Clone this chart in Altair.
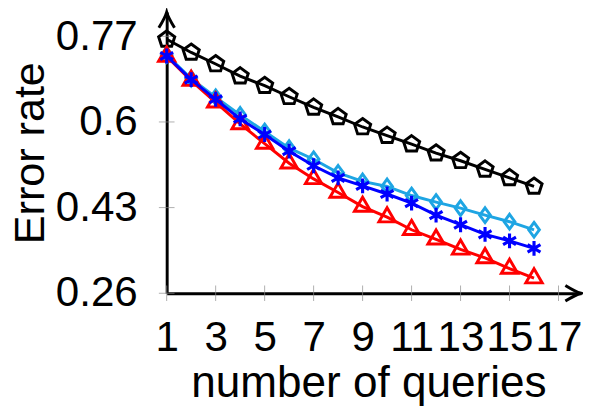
import altair as alt
import pandas as pd

queries = list(range(1, 17))
black_vals = [0.764, 0.738, 0.715, 0.691, 0.672, 0.650, 0.629, 0.610, 0.590, 0.573, 0.556, 0.538, 0.523, 0.506, 0.489, 0.472]
cyan_vals = [0.733, 0.686, 0.649, 0.614, 0.581, 0.548, 0.526, 0.499, 0.482, 0.472, 0.454, 0.441, 0.429, 0.415, 0.402, 0.386]
blue_vals = [0.731, 0.684, 0.645, 0.606, 0.575, 0.542, 0.513, 0.489, 0.473, 0.457, 0.439, 0.415, 0.396, 0.377, 0.364, 0.349]
red_vals = [0.730, 0.682, 0.639, 0.596, 0.557, 0.518, 0.487, 0.460, 0.432, 0.411, 0.386, 0.367, 0.347, 0.330, 0.309, 0.290]

x_ticks = [1, 3, 5, 7, 9, 11, 13, 15, 17]
y_ticks = [0.26, 0.43, 0.6, 0.77]
x_domain = [1, 17.92]
y_domain = [0.26, 0.818]

FONT = "Liberation Sans"

PENTAGON = "M0,-1L0.951,-0.309L0.588,0.809L-0.588,0.809L-0.951,-0.309Z"
DIAMOND = "M0,-1L0.73,0L0,1L-0.73,0Z"
TRIANGLE = "M0,-1L0.866,0.5L-0.866,0.5Z"
ASTERISK = "M0,-1L0,1M-0.866,-0.5L0.866,0.5M-0.866,0.5L0.866,-0.5"
ARROW = "M-1,-0.5Q-0.35,-0.1,0,0Q-0.35,0.1,-1,0.5"

# (name, values, color, shape, size, marker stroke)
series = [
    ("black", black_vals, "#000000", PENTAGON, 300, 3.0),
    ("cyan", cyan_vals, "#1ea5e3", DIAMOND, 225, 3.0),
    ("red", red_vals, "#ff0000", TRIANGLE, 370, 3.0),
    ("blue", blue_vals, "#0000ff", ASTERISK, 230, 3.2),
]

xs = alt.Scale(domain=x_domain, nice=False, zero=False)
ys = alt.Scale(domain=y_domain, nice=False, zero=False)

x_axis = alt.Axis(
    values=x_ticks, format="d", title="number of queries",
    labelFont=FONT, labelFontSize=43, labelColor="black", labelPadding=24,
    labelOverlap=False, labelFlush=False, labelBound=False,
    ticks=False, tickSize=0, grid=False,
    domainColor="black", domainWidth=3,
    titleFont=FONT, titleFontSize=45, titleFontWeight="normal", titleColor="black",
    titleX=206, titleY=105, titleBaseline="alphabetic", titleAlign="center",
)
y_axis = alt.Axis(
    values=y_ticks, format=".2~f", title="Error rate",
    labelFont=FONT, labelFontSize=43, labelColor="black", labelPadding=30,
    labelOverlap=False, labelFlush=False, labelBound=False,
    ticks=False, tickSize=0, grid=False,
    domainColor="black", domainWidth=3,
    titleFont=FONT, titleFontSize=44, titleFontWeight="normal", titleColor="black",
    titleAngle=270, titleX=-126, titleY=143.5, titleBaseline="alphabetic", titleAlign="center",
)


def X():
    return alt.X("x:Q", scale=xs, axis=x_axis)


def Y():
    return alt.Y("y:Q", scale=ys, axis=y_axis)


layers = []

xt_df = pd.DataFrame({"x": x_ticks, "y": [y_domain[0]] * len(x_ticks)})
yt_df = pd.DataFrame({"x": [x_domain[0]] * len(y_ticks), "y": y_ticks})
layers.append(alt.Chart(xt_df).mark_tick(orient="vertical", size=16, thickness=1, color="#8c8c8c").encode(x=X(), y=Y()))
layers.append(alt.Chart(yt_df).mark_tick(orient="horizontal", size=16, thickness=1, color="#8c8c8c").encode(x=X(), y=Y()))

for name, vals, color, shape, size, sw in series:
    df = pd.DataFrame({"x": queries, "y": vals})
    layers.append(alt.Chart(df).mark_line(color=color, strokeWidth=3).encode(x=X(), y=Y()))
    layers.append(
        alt.Chart(df).mark_point(shape=shape, size=size, filled=False, color=color, strokeWidth=sw, opacity=1)
        .encode(x=X(), y=Y())
    )

arrow_df = pd.DataFrame({"x": [x_domain[1], x_domain[0]], "y": [y_domain[0], y_domain[1]], "a": [0, 270]})
layers.append(
    alt.Chart(arrow_df).mark_point(shape=ARROW, size=1024, filled=False, color="black", strokeWidth=3, opacity=1)
    .encode(x=X(), y=Y(), angle=alt.Angle("a:Q", scale=None))
)

chart = alt.layer(*layers).properties(
    width=423, height=287,
    autosize=alt.AutoSizeParams(type="none"),
    padding={"left": 162, "top": 0, "right": 2, "bottom": 116},
    background="white",
).configure_view(stroke=None)

chart.save("out.html", embed_options={"renderer": "svg", "actions": False})
